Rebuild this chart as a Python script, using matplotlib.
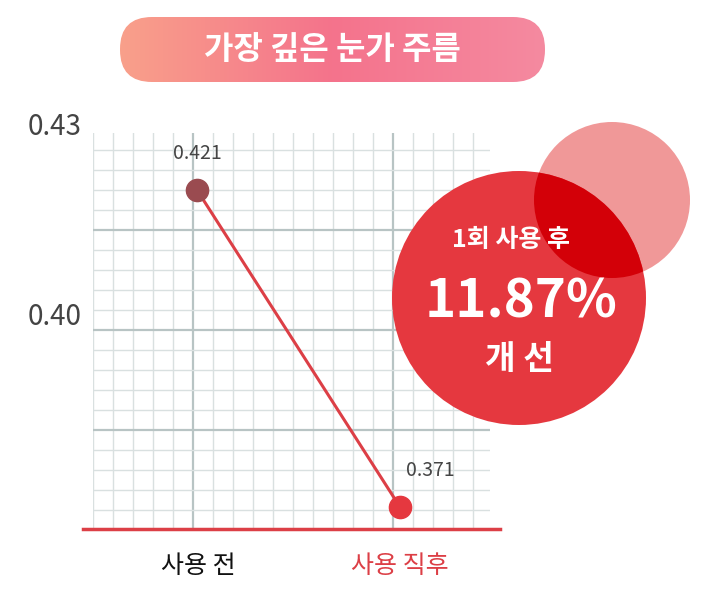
import numpy as np
import matplotlib.pyplot as plt
from matplotlib.patches import Circle, FancyBboxPatch
from matplotlib.colors import LinearSegmentedColormap

plt.rcParams['font.family'] = ['Noto Sans CJK KR', 'DejaVu Sans']

title = '가장 깊은 눈가 주름'
categories = ['사용 전', '사용 직후']
values = [0.421, 0.371]
yticks = [0.40, 0.43]
badge = ['1회 사용 후', '11.87%', '개 선']

W, H = 705, 598
fig = plt.figure(figsize=(W / 100, H / 100), dpi=100)

def fx(x):
    return x / W

def fy(y):
    return 1 - y / H

# plot area in pixels
L, R, T, B = 93, 490, 133, 528
pos = [fx(L), fy(B), fx(R) - fx(L), fy(T) - fy(B)]

# background grid in pixel units
g = fig.add_axes(pos)
g.set_xlim(L, R)
g.set_ylim(B, T)
g.axis('off')
for x in np.arange(93, 491, 20):
    major = abs(x - 193) < 1 or abs(x - 393) < 1
    g.axvline(x, color='#b8c4c4' if major else '#d9e0e0', lw=1.6 if major else 1.0)
for y in np.arange(530, 130, -20):
    major = abs(y - 330) < 1 or abs(y - 430) < 1 or abs(y - 230) < 1
    g.axhline(y, color='#b8c4c4' if major else '#d9e0e0', lw=1.6 if major else 1.0)

# data axes
ax = fig.add_axes(pos)
ax.patch.set_alpha(0)
px_per_val = 317 / 0.05
ax.set_ylim(0.371 - (B - 507) / px_per_val, 0.371 + (507 - T) / px_per_val)
ax.set_xlim(-(197 - L) / 203, 1 + (R - 400) / 203)
for s in ax.spines.values():
    s.set_visible(False)
ax.set_xticks([])
ax.set_yticks([])
xs = [0, 1]
ax.plot(xs, values, color='#dc3f46', lw=2.2, zorder=2)
ax.plot(xs[0], values[0], 'o', color='#9a4b50', ms=16, zorder=3)
ax.plot(xs[1], values[1], 'o', color='#e5383f', ms=16, zorder=3)
for x, v in zip(xs, values):
    ax.annotate(f'{v:.3f}', (x, v), xytext=(0 if x == 0 else 22, 26), textcoords='offset points',
                ha='center', va='center', fontsize=14, color='#444444')

for t in yticks:
    ax.text(-0.70, t + 0.001, f'{t:.2f}', ha='center', va='center', fontsize=20, color='#444444',
            clip_on=False)

# baseline and category labels
fig.add_artist(plt.Line2D([fx(83), fx(500)], [fy(529), fy(529)], color='#dc3f46', lw=2.5))
fig.text(fx(198), fy(566), categories[0], ha='center', va='center', fontsize=18, color='#111111')
fig.text(fx(400), fy(566), categories[1], ha='center', va='center', fontsize=18, color='#dc3f46')

# title pill with gradient
o = fig.add_axes([0, 0, 1, 1], zorder=5)
o.set_xlim(0, W)
o.set_ylim(H, 0)
o.axis('off')
o.patch.set_alpha(0)
pill = FancyBboxPatch((120, 17), 425, 65, boxstyle='round,pad=0,rounding_size=32',
                      fc='none', ec='none')
o.add_patch(pill)
grad = np.linspace(0, 1, 256).reshape(1, -1)
cm = LinearSegmentedColormap.from_list('p', ['#f9a08a', '#f4738c', '#f58aa0'])
im = o.imshow(grad, extent=(120, 545, 82, 17), cmap=cm, aspect='auto', zorder=1)
im.set_clip_path(pill)
o.text(332, 50, title, ha='center', va='center', fontsize=23, color='white', fontweight='bold', zorder=2)

# badge circles
red = Circle((519, 298), 127, fc='#e5383f', ec='none', zorder=2)
pink = Circle((612, 200), 78, fc='#f09898', ec='none', zorder=1)
o.add_patch(pink)
o.add_patch(red)
inter = Circle((612, 200), 78, fc='#d30008', ec='none', zorder=3)
o.add_patch(inter)
inter.set_clip_path(red)
o.text(511, 240, badge[0], ha='center', va='center', fontsize=18, color='white', fontweight='bold', zorder=4)
o.text(521, 302, badge[1], ha='center', va='center', fontsize=38, color='white', fontweight='bold', zorder=4)
o.text(519, 360, badge[2], ha='center', va='center', fontsize=24, color='white', fontweight='bold', zorder=4)

fig.savefig('out.png', dpi=100)
